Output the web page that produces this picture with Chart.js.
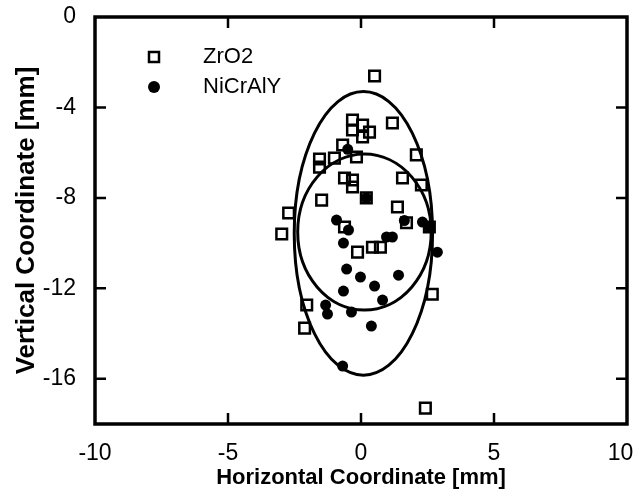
<!DOCTYPE html>
<html>
<head>
<meta charset="utf-8">
<script src="https://cdn.jsdelivr.net/npm/chart.js@4.4.1/dist/chart.umd.min.js"></script>
<style>
body{margin:0;background:#fff}
#wrap{width:637px;height:497px}
</style>
</head>
<body>
<div id="wrap"><canvas id="myChart"></canvas></div>
<script>
// data (mm)
var zrX = [0.51, -0.32, 0.06, -0.32, 0.32, 0.06, 1.18, -0.69, -1.0, -1.56, -1.56, -0.17, 2.08, -0.62, -0.32, -0.32, 1.56, 2.27, 0.2, -1.48, 1.37, -2.72, 1.71, 2.57, -2.98, -0.62, -0.13, 0.43, 0.73, 2.68, -2.04, -2.12, 2.42]
var zrY = [-2.61, -4.56, -4.78, -5.0, -5.09, -5.31, -4.69, -5.66, -6.24, -6.28, -6.64, -6.19, -6.1, -7.12, -7.21, -7.52, -7.12, -7.43, -8.0, -8.1, -8.4, -8.67, -9.1, -9.29, -9.6, -9.29, -10.4, -10.18, -10.18, -12.26, -12.74, -13.76, -17.3]
var niX = [-0.5, 0.2, 1.63, 2.31, 2.57, -0.92, -0.47, -0.66, 0.96, 1.18, 2.87, -0.54, -0.02, 1.41, 0.51, -0.66, 0.81, -1.33, -1.26, -0.36, 0.39, -0.69]
var niY = [-5.85, -8.0, -9.0, -9.07, -9.29, -8.98, -9.42, -10.0, -9.73, -9.73, -10.4, -11.15, -11.5, -11.42, -11.9, -12.12, -12.52, -12.74, -13.14, -13.05, -13.67, -15.44]

// fitted ellipses: ZrO2 (outer), NiCrAlY (inner)
var ellCx = [0.09, 0.13]
var ellCy = [-9.57, -9.51]
var ellRx = [2.6, 2.51]
var ellRy = [6.27, 3.45]

var xTicks = [-10, -5, 0, 5, 10]
var yTicks = [0, -4, -8, -12, -16]
var seriesNames = ["ZrO2", "NiCrAlY"]

var fam = "'Liberation Sans', Arial, sans-serif"

function pts(xs, ys) {
    return xs.map(function (v, i) { return {x: v, y: ys[i]} })
}

function noPad(s) {
    s.paddingLeft = 0; s.paddingRight = 0; s.paddingTop = 0; s.paddingBottom = 0
}

var extras = {
    id: "extras",
    afterDatasetsDraw: function (chart) {
        var ctx = chart.ctx, xs = chart.scales.x, ys = chart.scales.y
        ctx.save()
        ctx.strokeStyle = "#000"
        ctx.lineWidth = 3
        for (var i = 0; i < ellCx.length; i++) {
            var cx = xs.getPixelForValue(ellCx[i]), cy = ys.getPixelForValue(ellCy[i])
            var rx = Math.abs(xs.getPixelForValue(ellCx[i] + ellRx[i]) - cx)
            var ry = Math.abs(ys.getPixelForValue(ellCy[i] + ellRy[i]) - cy)
            ctx.beginPath()
            ctx.ellipse(cx, cy, rx, ry, 0, 0, Math.PI * 2)
            ctx.stroke()
        }
        ctx.restore()
    },
    afterDraw: function (chart) {
        var ctx = chart.ctx, a = chart.chartArea, xs = chart.scales.x, ys = chart.scales.y
        ctx.save()
        ctx.strokeStyle = "#000"
        ctx.lineWidth = 3.5
        ctx.strokeRect(a.left, a.top, a.right - a.left, a.bottom - a.top)
        ctx.lineWidth = 2.5
        ctx.beginPath()
        xTicks.slice(1, -1).forEach(function (t) {
            var p = xs.getPixelForValue(t)
            ctx.moveTo(p, a.bottom); ctx.lineTo(p, a.bottom - 11)
            ctx.moveTo(p, a.top); ctx.lineTo(p, a.top + 11)
        })
        yTicks.slice(1).forEach(function (t) {
            var p = ys.getPixelForValue(t)
            ctx.moveTo(a.left, p); ctx.lineTo(a.left + 11, p)
            ctx.moveTo(a.right, p); ctx.lineTo(a.right - 11, p)
        })
        ctx.stroke()

        // legend inside the plot
        ctx.font = "22px " + fam
        ctx.fillStyle = "#000"
        ctx.textBaseline = "middle"
        ctx.lineWidth = 2.5
        ctx.strokeRect(149, 52, 10, 10)
        ctx.fillText(seriesNames[0], 203, 57)
        ctx.beginPath()
        ctx.arc(154, 87, 6, 0, Math.PI * 2)
        ctx.fill()
        ctx.fillText(seriesNames[1], 203, 87)
        ctx.restore()
    }
}

var ctx = document.getElementById("myChart").getContext("2d")
var chart = new Chart(ctx, {
    type: "scatter",
    data: {
        datasets: [{
            label: seriesNames[0],
            data: pts(zrX, zrY),
            pointStyle: "rect",
            pointRadius: 7.5,
            borderWidth: 2.5,
            borderColor: "#000",
            backgroundColor: "rgba(0,0,0,0)",
            order: 2
        }, {
            label: seriesNames[1],
            data: pts(niX, niY),
            pointStyle: "circle",
            pointRadius: 5.5,
            borderWidth: 0,
            borderColor: "#000",
            backgroundColor: "#000",
            order: 1
        }]
    },
    options: {
        responsive: true,
        maintainAspectRatio: false,
        animation: false,
        layout: {padding: {top: 17, right: 9, left: 0, bottom: 0}},
        plugins: {legend: {display: false}, tooltip: {enabled: false}},
        scales: {
            x: {
                type: "linear", min: -10, max: 10,
                afterBuildTicks: function (s) { s.ticks = xTicks.map(function (v) { return {value: v} }) },
                afterFit: function (s) { s.height = 73; noPad(s) },
                grid: {display: false, drawTicks: false},
                border: {display: false},
                ticks: {
                    color: "#000", padding: 16, font: {family: fam, size: 23},
                    // last label sits a little left so it stays on the canvas
                    callback: function (v) { return v === 10 ? "10  " : String(v) }
                },
                title: {display: true, text: "Horizontal Coordinate [mm]", color: "#000",
                    padding: {top: 0, bottom: 6}, font: {family: fam, size: 22, weight: "bold"}}
            },
            y: {
                type: "linear", min: -18, max: 0,
                afterBuildTicks: function (s) { s.ticks = yTicks.map(function (v) { return {value: v} }) },
                afterFit: function (s) { s.width = 95; noPad(s) },
                grid: {display: false, drawTicks: false},
                border: {display: false},
                ticks: {color: "#000", padding: 19, font: {family: fam, size: 23}},
                title: {display: true, text: "Vertical Coordinate [mm]", color: "#000",
                    padding: {top: 11, bottom: 0}, font: {family: fam, size: 26, weight: "bold"}}
            }
        }
    },
    plugins: [extras]
})
</script>
</body>
</html>
